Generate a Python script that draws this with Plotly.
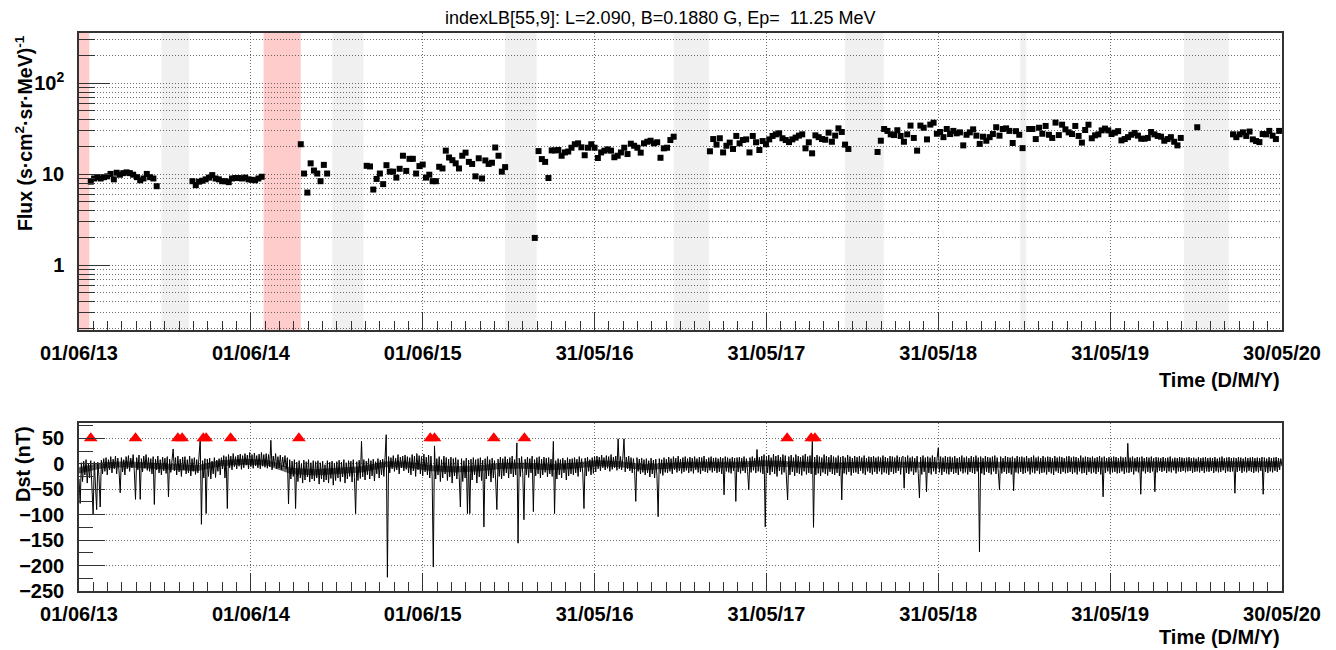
import pandas as pd
import plotly.graph_objects as go

# ---------------- data ----------------
T0 = pd.Timestamp("2013-06-01")
T_END = pd.Timestamp("2020-05-30")

# flux: day offsets from 01/06/2013 and flux values
flux_days = [
    25, 32, 39, 46, 53, 60, 67, 74, 80, 87, 94, 101, 108, 115, 123, 130, 137, 144, 151, 158, 165,
    241, 248, 255, 262, 269, 276, 283, 290, 297, 304, 311, 318, 325, 332, 339, 346, 353, 360, 367, 374, 381, 388,
    471, 478, 485, 492, 499, 506, 513, 520, 527,
    611, 618, 625, 632, 639, 646, 653, 660, 667, 674, 681, 688, 695, 702, 709, 716, 723, 730, 737, 744,
    751, 758, 765, 772, 779, 786, 793, 800, 807, 814, 821, 828, 835, 842, 849, 856, 863, 870, 877, 884,
    891, 898, 905,
    968, 976, 983, 990, 997, 1004, 1011, 1018, 1025,
    1032, 1039, 1046, 1053, 1060, 1067, 1074, 1081, 1088, 1095, 1102, 1109, 1116, 1123, 1130, 1137, 1144,
    1151, 1158, 1165, 1172, 1179, 1186, 1193, 1200, 1207, 1214, 1221, 1228, 1235, 1242, 1249, 1256, 1263,
    1340, 1347, 1354, 1361, 1368, 1375, 1382, 1389, 1396, 1403, 1410, 1417, 1424, 1431, 1438, 1445, 1452,
    1459, 1466, 1473, 1480, 1487, 1494, 1501, 1508, 1515, 1522, 1529, 1536, 1543, 1550, 1557, 1564, 1571,
    1578, 1585, 1592, 1599, 1606, 1613, 1620, 1627, 1634,
    1696, 1703, 1710, 1717, 1724, 1731, 1738, 1745, 1752, 1759, 1766, 1773, 1780, 1787, 1794, 1801, 1808,
    1815, 1822, 1829, 1836, 1843, 1850, 1857, 1864, 1871, 1878, 1885, 1892, 1899, 1906, 1913, 1920, 1927,
    1934, 1941, 1948, 1955, 1962, 1969, 1976, 1983, 1990, 1997, 2004,
    2018, 2025, 2032, 2039, 2046, 2053,
    2060, 2067, 2074, 2081, 2088, 2095, 2102, 2109, 2116, 2123, 2130, 2137, 2144, 2151, 2158, 2165, 2172,
    2179, 2186, 2193, 2200, 2207, 2214, 2221, 2228, 2235, 2242, 2249, 2256, 2263, 2270, 2277, 2284, 2291,
    2298, 2305, 2312, 2319, 2326, 2333, 2340,
    2375,
    2451, 2458, 2465, 2472, 2479, 2486, 2493, 2500, 2507, 2514, 2521, 2528, 2535, 2542, 2549,
]
flux_vals = [
    8.3, 9.0, 9.3, 9.0, 9.3, 9.5, 10.1, 8.8, 10.4, 9.9, 10.3, 10.5, 10.3, 9.9, 9.3, 8.6, 9.0, 10.1, 9.3, 9.0, 7.4,
    8.4, 7.6, 8.3, 8.5, 8.8, 9.2, 9.8, 9.0, 8.8, 8.4, 8.4, 8.2, 9.0, 9.1, 9.1, 9.0, 9.2, 8.8, 8.7, 8.6, 9.0, 9.4,
    21.4, 10.2, 6.3, 13.2, 11.0, 10.2, 8.4, 12.7, 10.2,
    12.4, 12.2, 6.8, 8.9, 10.2, 7.8, 12.6, 10.7, 10.7, 9.2, 11.5, 16.0, 10.9, 14.8, 14.8, 10.2, 12.3, 12.8, 9.2, 9.9,
    8.4, 8.4, 12.1, 11.6, 18.2, 15.3, 14.3, 13.2, 11.6, 16.0, 17.3, 13.7, 13.0, 9.5, 15.0, 9.0, 14.2, 13.0, 13.4, 19.7,
    16.0, 10.7, 12.0,
    2.0, 18.0, 14.7, 13.7, 9.1, 18.3, 18.3, 18.5, 16.0,
    17.4, 17.8, 19.6, 21.4, 21.9, 19.8, 16.2, 19.6, 21.4, 19.6, 15.1, 17.4, 18.2, 18.8, 18.2, 15.4, 16.0,
    17.4, 19.6, 16.7, 21.7, 20.6, 19.6, 17.3, 21.9, 22.8, 23.4, 21.9, 22.5, 15.2, 19.3, 19.6, 23.8, 25.9,
    17.9, 24.4, 21.2, 24.9, 17.4, 20.6, 22.3, 19.0, 26.4, 21.9, 23.8, 24.2, 17.4, 26.4, 22.5, 18.5, 23.2,
    21.4, 24.2, 26.4, 27.5, 28.2, 24.9, 23.8, 22.6, 24.2, 25.3, 26.6, 27.5, 19.3, 22.5, 17.0, 26.8, 25.6,
    24.4, 24.0, 28.7, 22.8, 26.6, 32.0, 29.2, 21.2, 19.0,
    17.6, 23.4, 31.5, 30.0, 27.5, 27.0, 30.5, 26.4, 22.8, 27.5, 34.3, 25.1, 18.2, 34.3, 32.5, 24.2, 35.2,
    36.9, 27.9, 29.2, 25.6, 31.5, 27.7, 30.0, 28.2, 28.9, 20.8, 27.2, 28.9, 31.2, 26.6, 21.6, 25.9, 23.4,
    25.6, 27.7, 32.9, 26.6, 31.5, 32.0, 30.0, 22.1, 29.8, 27.2, 19.4,
    31.5, 31.5, 24.4, 32.5, 27.9, 34.0,
    27.2, 25.1, 37.0, 27.0, 35.1, 31.2, 28.9, 27.7, 34.0, 26.4, 22.3, 30.7, 35.1, 24.9, 26.8, 27.5, 30.4,
    31.8, 30.4, 27.7, 28.7, 29.8, 23.6, 24.4, 25.6, 27.2, 28.5, 26.6, 24.6, 24.6, 25.1, 29.2, 27.5, 26.4,
    25.9, 23.4, 24.4, 25.6, 22.8, 20.8, 25.1,
    32.9,
    27.5, 25.6, 27.5, 28.9, 26.4, 29.5, 24.2, 23.2, 22.6, 27.7, 27.5, 30.0, 26.6, 24.4, 30.0,
]
assert len(flux_days) == len(flux_vals)

# shaded periods (day offsets)
band_start_days = [0, 392, 175, 538, 905, 1263, 1627, 1999, 2347]
band_end_days = [22, 471, 234, 604, 972, 1338, 1709, 2012, 2442]
band_kind = ["pink", "pink", "gray", "gray", "gray", "gray", "gray", "gray", "gray"]

# storm markers (day offsets) and marker level in nT
storm_days = [25, 120, 210, 219, 264, 270, 322, 467, 746, 755, 881, 946, 1504, 1555, 1563]
storm_level = [50, 50, 50, 50, 50, 50, 50, 50, 50, 50, 50, 50, 50, 50, 50]

# Dst (nT), read every 2.5 days from 01/06/2013 (one row = 50 days)
dst_step = "60h"
dst_vals = [
    -30, -78, 2, -35, 5, -22, 8, -38, 0, -28, 6, -40, -100, 4, -32, -90, 3, -25, -85, 7,
    -20, 10, -15, 12, -22, 8, -12, 14, -18, 9, -10, 15, -20, 11, -14, -57, 12, -16, 8, -22,
    14, -10, 16, -15, 11, -8, 18, -14, -70, 12, -12, 17, -70, 10, -16, 15, -9, 18, -13, 12,
    -15, 10, -20, 14, -80, 9, -12, 15, -18, 8, -22, 13, -14, 11, -19, 14, -65, 9, -17, 12,
    29, -14, 12, -22, 15, -16, 9, -25, 13, -12, 14, -20, 8, -18, 15, -24, 10, -15, 12, -21,
    8, -18, 12, 49, -119, 6, -28, 10, -98, 9, -25, 11, -30, 5, -20, 12, -27, 7, -15, 10,
    -22, 12, -10, 16, -28, 14, -88, 18, -8, 15, -12, 20, -6, 14, -10, 17, -5, 19, -11, 16,
    -8, 20, -3, 17, -10, 22, -6, 18, -9, 21, -4, 16, -8, 19, -10, 22, -5, 18, -7, 20,
    -9, 18, -6, 46, -12, 15, -5, 20, -10, 14, -8, 17, -12, 13, -6, 16, -10, 12, -79, 8,
    -30, 5, -25, 8, -88, 3, -35, 6, -28, 0, -38, 7, -32, 4, -26, 8, -36, 2, -30, 6,
    -34, 4, -28, 6, -40, 2, -30, 5, -36, -2, -32, 6, -38, 3, -29, 5, -42, 1, -33, 4,
    -28, 7, -35, 3, -26, 8, -38, 2, -30, 6, -25, 5, -36, 8, -27, -98, 4, -33, 7, -29,
    44, -26, 8, -32, 5, -22, 10, -30, 6, -24, 9, -34, 4, -20, 10, -28, 7, -22, 9, -25,
    12, 57, -223, 14, -18, 12, -10, 16, -15, 11, -12, 18, -20, 13, -8, 15, -14, 17, -11, 14,
    -18, 12, -22, 18, -14, 15, -25, 20, -12, 16, -20, 14, -24, 19, -16, 13, -22, 17, -28, 15,
    -25, -203, 35, -30, 10, -22, 14, -35, 8, -28, 15, -20, 12, -33, 9, -26, 13, -38, 10, -24,
    12, -30, 8, -25, -85, 10, -35, 6, -28, 11, -98, 7, -98, 9, -32, 12, -22, 8, -38, 10,
    -26, 12, -33, 7, -124, 10, -30, 14, -24, 8, -36, 11, -28, 6, -34, -90, 9, -25, 13, -30,
    10, -24, 14, -18, 9, -28, 12, -20, 15, -26, 8, -22, 41, -156, 11, -25, 14, -19, -110, 9,
    -22, 13, -27, 10, -18, 15, -94, 8, -24, 12, -20, 14, -28, 9, -22, 13, -17, 11, -26, 12,
    -20, 9, -25, 44, -98, 6, -30, 10, -22, 8, -28, 11, -18, 7, -32, 12, -24, 9, -20, 10,
    -22, 12, -18, 9, -25, 14, -16, 10, -20, -88, 11, -24, 13, -15, 8, -22, 12, -19, 14, -16,
    15, -10, 13, -14, 17, -8, 12, -12, 16, -9, 14, -15, 18, -11, 13, -8, 15, -13, 49, -10,
    14, -12, 11, 49, -16, 13, -10, 15, -14, 12, -18, 10, -13, -74, 12, -15, 9, -20, 11, -17,
    8, -22, 10, -18, 6, -26, 11, -20, 7, -28, 9, -24, -104, 10, -19, 8, -23, 12, -17, 9,
    -18, 13, -15, 10, -20, 14, -12, 11, -17, 15, -14, 9, -19, 12, -16, 14, -13, 10, -18, 13,
    -15, 11, -19, 14, -12, 10, -17, 13, -20, 12, -14, 15, -16, 9, -18, 12, -13, 14, -17, 11,
    -14, 12, -18, 10, -16, 13, -20, 11, -61, 14, -15, 12, -17, 10, -19, 13, -14, 11, -74, 12,
    -16, 13, -19, 11, -14, 14, -18, 10, -15, -51, 12, -17, 14, -13, 11, -18, 28, -15, 13, -17,
    15, -20, 18, -124, 14, -18, 17, -22, 12, -16, 19, -20, 15, -25, 17, -14, 13, -21, 18, -17,
    16, -19, -71, 14, -22, 17, -16, 12, -24, 18, -18, 15, -20, 13, -23, 16, -15, 19, -21, 14,
    -18, 16, -20, 44, -125, 13, -22, 17, -19, 14, -24, 12, -17, 18, -20, 15, -23, 13, -16, 17,
    -20, 14, -22, 12, -18, 16, -24, 13, -71, 15, -19, 12, -21, 17, -16, 14, -23, 11, -18, 15,
    -17, 13, -20, 15, -14, 12, -19, 16, -22, 11, -15, 14, -18, 13, -21, 15, -16, 12, -20, 14,
    -15, 12, -21, 16, -17, 13, -19, 11, -22, 15, -16, 14, -20, 12, -18, 16, -14, 13, -21, 12,
    15, -48, 13, -18, 16, -20, 12, -15, 14, -22, 11, -17, 15, -19, -67, 13, -21, 16, -16, 12,
    -55, 14, -18, 12, -21, 16, -15, 13, -20, 11, 31, -17, 14, -22, 12, -16, 15, -19, 13, -21,
    14, -16, 12, -20, 15, -18, 11, -22, 13, -15, 16, -19, 12, -17, 14, -21, 11, -16, 15, -18,
    13, -20, 16, -15, 12, -173, 14, -19, 11, -22, 15, -16, 13, -18, 12, -21, 14, -15, 16, -20,
    12, -17, -51, 14, -19, 11, -16, 15, -20, 13, -18, 12, -21, 14, -53, 11, -17, 15, -19, 13,
    -16, 14, -20, 12, -18, 15, -15, 11, -21, 13, -17, 16, -19, 12, -14, 14, -20, 11, -18, 15,
    -17, 12, -21, 14, -16, 13, -19, 11, -22, 15, -15, 12, -18, 14, -20, 13, -16, 11, -19, 14,
    -18, 15, -16, 12, -20, 14, -17, 13, -21, 11, -15, 16, -19, 12, -18, 14, -22, 13, -16, 12,
    -19, 14, -17, 11, -20, 13, -16, 15, -21, 12, -65, 14, -18, 11, -15, 13, -20, 12, -17, 14,
    -16, 13, -19, 11, -18, 14, -15, 12, -20, 13, -17, 40, -18, 12, -16, 14, -21, 11, -15, 13,
    -17, 12, -60, 14, -15, 11, -19, 13, -16, 12, -18, 14, -15, 11, -55, 13, -17, 12, -14, 11,
    -16, 13, -14, 11, -18, 12, -15, 14, -17, 10, -13, 12, -19, 11, -15, 13, -16, 12, -14, 11,
    -17, 12, -15, 13, -14, 11, -18, 12, -16, 10, -15, 13, -17, 11, -14, 12, -18, 13, -15, 11,
    -16, 12, -14, 11, -18, 13, -15, 10, -17, 12, -16, 14, -13, 11, -18, 12, -15, 13, -16, 11,
    -15, 12, -58, 11, -16, 13, -14, 12, -18, 10, -15, 13, -17, 11, -14, 12, -16, 13, -18, 11,
    -15, 12, -17, 11, -14, 13, -60, 12, -16, 10, -18, 13, -15, 11, -17, 12, -14, 13, -16, 11,
    -12, 10, -5,
]

# dense core of the Dst trace, read every 50 days (upper / lower edge, nT)
core_step = "50D"
dst_core_hi = [-7, 3, 5, 2, 0, -3, 7, 10, 8, -8,
               -11, -8, -5, 5, 4, -3, -5, -3, 2, 2,
               -1, 2, 7, 5, -1, 2, 4, 4, 4, 7,
               5, 4, 2, 4, 4, 4, 4, 2, 4, 4,
               4, 4, 4, 4, 4, 5, 5, 5, 5, 5,
               5, 5]
dst_core_lo = [-19, -9, -7, -10, -12, -15, -5, -2, -4, -20,
               -23, -20, -17, -7, -8, -15, -17, -15, -10, -10,
               -13, -10, -5, -7, -13, -10, -8, -8, -8, -5,
               -7, -8, -10, -8, -8, -8, -8, -10, -8, -8,
               -8, -8, -8, -8, -8, -7, -7, -7, -7, -7,
               -7, -7]

# axis ticks
flux_tickvals = [1, 10, 100]
flux_ticktext = ["1", "10", "10<sup>2</sup>"]
flux_minor_vals = [0.2, 0.3, 0.4, 0.5, 0.6, 0.7, 0.8, 0.9, 2, 3, 4, 5, 6, 7, 8, 9,
                   20, 30, 40, 50, 60, 70, 80, 90, 200, 300]
dst_tickvals = [-250, -200, -150, -100, -50, 0, 50]
dst_minor_vals = [-225, -175, -125, -75, -25, 25, 75]

title_text = "indexLB[55,9]: L=2.090, B=0.1880 G, Ep=  11.25 MeV"

# ---------------- figure ----------------
def to_date(days):
    return T0 + pd.to_timedelta(days, unit="D")

flux_x = [to_date(d) for d in flux_days]
dst_x = pd.date_range(T0, periods=len(dst_vals), freq=dst_step)
core_x = pd.date_range(T0, periods=len(dst_core_hi), freq=core_step)
storm_x = [to_date(d) for d in storm_days]

# page body has an 8px margin: the figure starts at (8, 8) in the window
OFF = 8
W, H = 1336 - OFF, 650 - OFF
ML, MR, MT, MB = 79 - OFF, 54, 33 - OFF, 59
plot_h = H - MT - MB

def py(ypx):  # ypx in window pixels
    return (H - MB - (ypx - OFF)) / plot_h

def px(xpx):
    return ((xpx - OFF) - ML) / (W - ML - MR)

fig = go.Figure()
fig.add_trace(go.Scatter(x=flux_x, y=flux_vals, mode="markers",
                         marker=dict(symbol="square", size=6, color="black"),
                         xaxis="x", yaxis="y", showlegend=False))
fig.add_trace(go.Scatter(x=core_x, y=dst_core_lo, mode="lines", line=dict(width=0),
                         xaxis="x2", yaxis="y2", showlegend=False, hoverinfo="skip"))
fig.add_trace(go.Scatter(x=core_x, y=dst_core_hi, mode="lines", line=dict(width=0),
                         fill="tonexty", fillcolor="rgba(0,0,0,0.6)",
                         xaxis="x2", yaxis="y2", showlegend=False, hoverinfo="skip"))
fig.add_trace(go.Scatter(x=dst_x, y=dst_vals, mode="lines",
                         line=dict(color="black", width=1.0),
                         xaxis="x2", yaxis="y2", showlegend=False))
fig.add_trace(go.Scatter(x=storm_x, y=storm_level, mode="markers",
                         marker=dict(symbol="triangle-up", size=12, color="red"),
                         xaxis="x2", yaxis="y2", showlegend=False))

colors = {"pink": "rgb(255,204,204)", "gray": "rgb(240,240,240)"}
for s, e, k in zip(band_start_days, band_end_days, band_kind):
    fig.add_shape(type="rect", xref="x", yref="y domain", x0=to_date(s), x1=to_date(e),
                  y0=0, y1=1, fillcolor=colors[k], line_width=0, layer="below")

DAY_MS = 86400000
grid = dict(showgrid=True, gridcolor="rgba(60,60,60,0.75)", griddash="1px,2px", gridwidth=1)
tickfont = dict(family="Liberation Sans, Arial, sans-serif", size=20, color="black", weight="bold")
frame = dict(showline=True, linecolor="#333", linewidth=1.5, mirror=True, zeroline=False)

xcommon = dict(type="date", range=[T0, T_END], tickmode="linear", tick0=T0,
               dtick=365 * DAY_MS, tickformat="%d/%m/%y", ticks="inside", ticklen=18,
               tickcolor="#333", tickfont=tickfont, ticklabelstandoff=4,
               minor=dict(tick0=T0, dtick=365 * DAY_MS / 12, ticks="inside", ticklen=9,
                          tickcolor="#333", showgrid=False),
               **grid, **frame)

fig.update_layout(
    width=W, height=H,
    margin=dict(l=ML, r=MR, t=MT, b=MB),
    paper_bgcolor="white", plot_bgcolor="white",
    xaxis=dict(domain=[0, 1], anchor="y", **xcommon),
    yaxis=dict(domain=[py(330), 1], anchor="x", type="log", range=[-0.711, 2.553],
               tickmode="array", tickvals=flux_tickvals, ticktext=flux_ticktext,
               ticks="inside", ticklen=31, tickcolor="#333", tickfont=tickfont,
               ticklabelstandoff=9,
               minor=dict(tickmode="array", tickvals=flux_minor_vals, ticks="inside",
                          ticklen=16, tickcolor="#333", showgrid=True,
                          gridcolor="rgba(60,60,60,0.75)", griddash="1px,2px", gridwidth=1),
               **grid, **frame),
    xaxis2=dict(domain=[0, 1], anchor="y2", matches="x", **xcommon),
    yaxis2=dict(domain=[0, py(423)], anchor="x2", range=[-250, 80],
                tickmode="array", tickvals=dst_tickvals,
                ticks="inside", ticklen=26, tickcolor="#333", tickfont=tickfont,
                ticklabelstandoff=9,
                minor=dict(tickmode="array", tickvals=dst_minor_vals, ticks="inside",
                           ticklen=14, tickcolor="#333", showgrid=False),
                **grid, **frame),
    font=dict(family="Liberation Sans, Arial, sans-serif", color="black"),
)

annot_font = dict(family="Liberation Sans, Arial, sans-serif", size=20, color="black", weight="bold")
fig.add_annotation(text=title_text, xref="paper", yref="paper", x=px(660), y=py(18),
                   xanchor="center", yanchor="middle", showarrow=False,
                   font=dict(family="Liberation Sans, Arial, sans-serif", size=18, color="black"))
fig.add_annotation(text="Flux (s·cm<sup>2</sup>·sr·MeV)<sup>-1</sup>", textangle=-90,
                   xref="paper", yref="paper", x=px(24), y=py(133),
                   xanchor="center", yanchor="middle", showarrow=False,
                   font=dict(family="Liberation Sans, Arial, sans-serif", size=19.5,
                             color="black", weight="bold"))
fig.add_annotation(text="Dst (nT)", textangle=-90, xref="paper", yref="paper",
                   x=px(23), y=py(464), xanchor="center", yanchor="middle",
                   showarrow=False, font=annot_font)
for ypx in (380, 637):
    fig.add_annotation(text="Time (D/M/Y)", xref="paper", yref="paper", x=px(1282), y=py(ypx),
                       xanchor="right", yanchor="middle", showarrow=False, font=annot_font)

fig.write_html("out.html")
